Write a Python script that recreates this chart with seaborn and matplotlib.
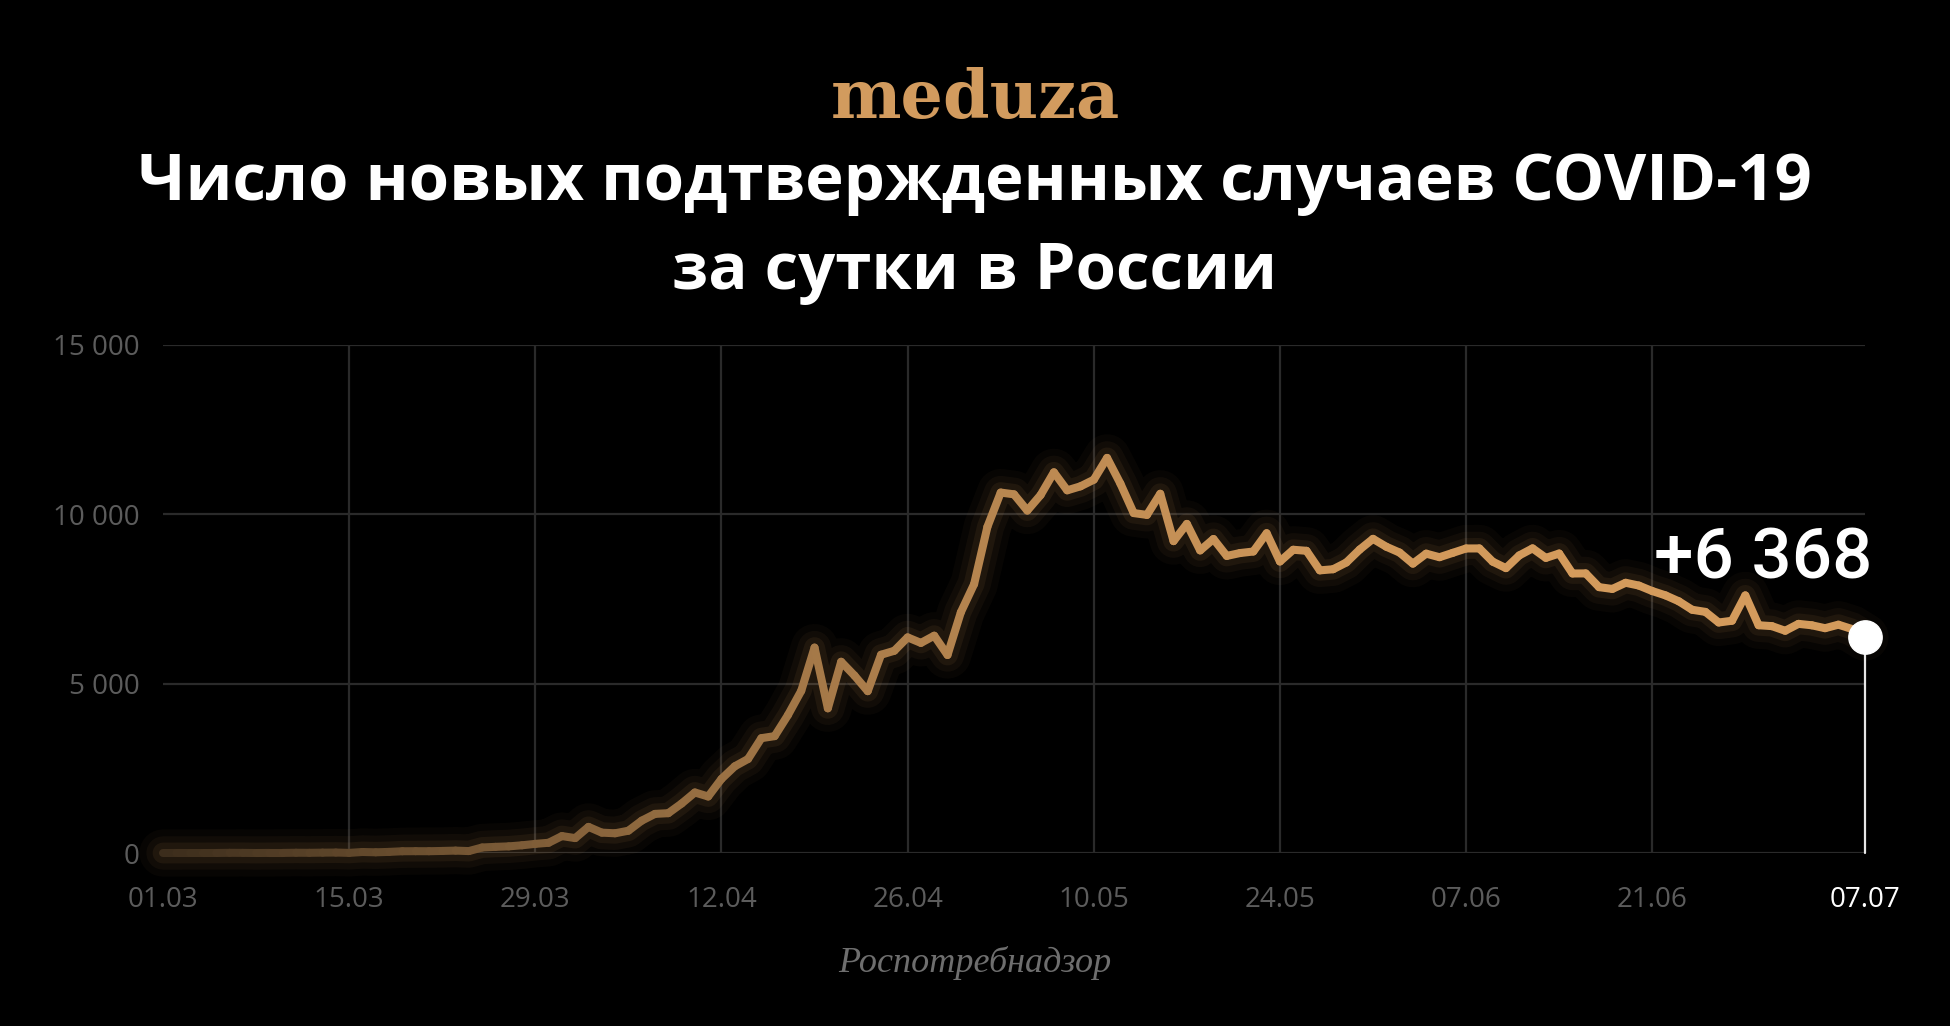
import matplotlib
matplotlib.use("Agg")
import matplotlib.pyplot as plt
import numpy as np
import pandas as pd
import seaborn as sns

# Daily new confirmed COVID-19 cases in Russia, 01.03.2020 - 07.07.2020
march = [0, 1, 0, 0, 1, 6, 4, 0, 3, 3, 8, 6, 11, 14, 4, 30, 21, 33, 52, 54,
         53, 61, 71, 57, 163, 182, 196, 228, 270, 302, 500]
april = [440, 771, 601, 582, 658, 954, 1154, 1175, 1459, 1786, 1667, 2186,
         2558, 2774, 3388, 3448, 4070, 4785, 6060, 4268, 5642, 5236, 4774,
         5849, 5966, 6361, 6198, 6411, 5841, 7099]
may = [7933, 9623, 10633, 10581, 10102, 10559, 11231, 10699, 10817, 11012,
       11656, 10899, 10028, 9974, 10598, 9200, 9709, 8926, 9263, 8764, 8849,
       8894, 9434, 8599, 8946, 8915, 8338, 8371, 8572, 8952, 9268]
june = [9035, 8863, 8536, 8831, 8726, 8855, 8984, 8985, 8595, 8404, 8779,
        8987, 8706, 8835, 8246, 8248, 7843, 7790, 7972, 7889, 7728, 7600,
        7425, 7176, 7113, 6800, 6852, 7600, 6719, 6693]
july = [6556, 6760, 6718, 6632, 6736, 6611, 6368]

start_date = "2020-03-01"
tick_dates = ["2020-03-01", "2020-03-15", "2020-03-29", "2020-04-12", "2020-04-26",
              "2020-05-10", "2020-05-24", "2020-06-07", "2020-06-21", "2020-07-07"]
tick_labels = ["01.03", "15.03", "29.03", "12.04", "26.04",
               "10.05", "24.05", "07.06", "21.06", "07.07"]
y_ticks = [0, 5000, 10000, 15000]
y_labels = ["0", "5 000", "10 000", "15 000"]

title = "Число новых подтвержденных случаев COVID-19\nза сутки в России"
source = "Роспотребнадзор"

cases = march + april + may + june + july
df = pd.DataFrame({"date": pd.date_range(start_date, periods=len(cases), freq="D"),
                   "cases": cases})

gold = np.array([212, 155, 92]) / 255
dark = np.array([60, 45, 28]) / 255

# one short piece per day so the colour can fade in from left to right
n = len(df) - 1
rows = []
colors = {}
for i in range(n):
    t = min(1.0, 1 - (1 - i / 110) ** 2) if i < 110 else 1.0
    colors[i] = tuple(dark + (gold - dark) * t)
    rows.append((df.date[i], df.cases[i], i))
    rows.append((df.date[i + 1], df.cases[i + 1], i))
seg = pd.DataFrame(rows, columns=["date", "cases", "seg"])

sns.set_theme(style="darkgrid", rc={
    "axes.facecolor": "black",
    "figure.facecolor": "black",
    "grid.color": "#2a2a2a",
    "grid.linewidth": 1.6,
    "axes.edgecolor": "black",
})
plt.rcParams["font.family"] = ["Open Sans", "DejaVu Sans"]

fig = plt.figure(figsize=(19.5, 10.26), dpi=100)
ax = fig.add_axes([0.0836, 0.1686, 0.8728, 0.4956])

# glow
for lw, a in [(34, 0.035), (24, 0.05), (15, 0.08)]:
    sns.lineplot(data=df, x="date", y="cases", ax=ax, color=gold, linewidth=lw,
                 alpha=a, solid_capstyle="round", solid_joinstyle="round",
                 clip_on=False, legend=False)

sns.lineplot(data=seg, x="date", y="cases", hue="seg", palette=colors, ax=ax,
             estimator=None, errorbar=None, linewidth=5.8, solid_capstyle="round",
             solid_joinstyle="round", clip_on=False, legend=False)

last_date = df.date.iloc[-1]
last_val = df.cases.iloc[-1]
ax.plot([last_date, last_date], [0, last_val], color="#e6e6e6", linewidth=1.6,
        clip_on=False, zorder=5)
ax.plot([last_date], [last_val], "o", color="white", markersize=24,
        clip_on=False, zorder=6)

ax.set_xlim(df.date.iloc[0], last_date)
ax.set_ylim(0, 15000)
ax.set_xticks(pd.to_datetime(tick_dates))
ax.set_xticklabels(tick_labels)
ax.set_yticks(y_ticks)
ax.set_yticklabels(y_labels)
ax.set_xlabel("")
ax.set_ylabel("")
ax.tick_params(axis="both", length=0, labelsize=20, colors="#5c5c5c")
ax.tick_params(axis="x", pad=24)
ax.tick_params(axis="y", pad=17)
ax.get_xticklabels()[-1].set_color("white")
xgrid = ax.get_xgridlines()
xgrid[0].set_visible(False)
xgrid[-1].set_visible(False)
for s in ax.spines.values():
    s.set_visible(False)

fig.text(1872 / 1950, 0.4366, "+6 368", ha="right", va="baseline", fontsize=51,
         fontweight="medium", family=["Roboto", "DejaVu Sans"], color="white")

fig.text(0.5, 0.885, "meduza", ha="center", va="baseline", fontsize=48,
         fontweight="bold", family="DejaVu Serif", color="#d29b5e")
t1, t2 = title.split("\n")
fig.text(0.5, 0.8051, t1, ha="center", va="baseline", fontsize=47,
         fontweight="bold", color="white")
fig.text(0.5, 0.7183, t2, ha="center", va="baseline", fontsize=47,
         fontweight="bold", color="white")
fig.text(0.5, 0.0526, source, ha="center", va="baseline", fontsize=26,
         style="italic", family="Liberation Serif", color="#6e6e6e")

fig.savefig("out.png", dpi=100, facecolor="black")
